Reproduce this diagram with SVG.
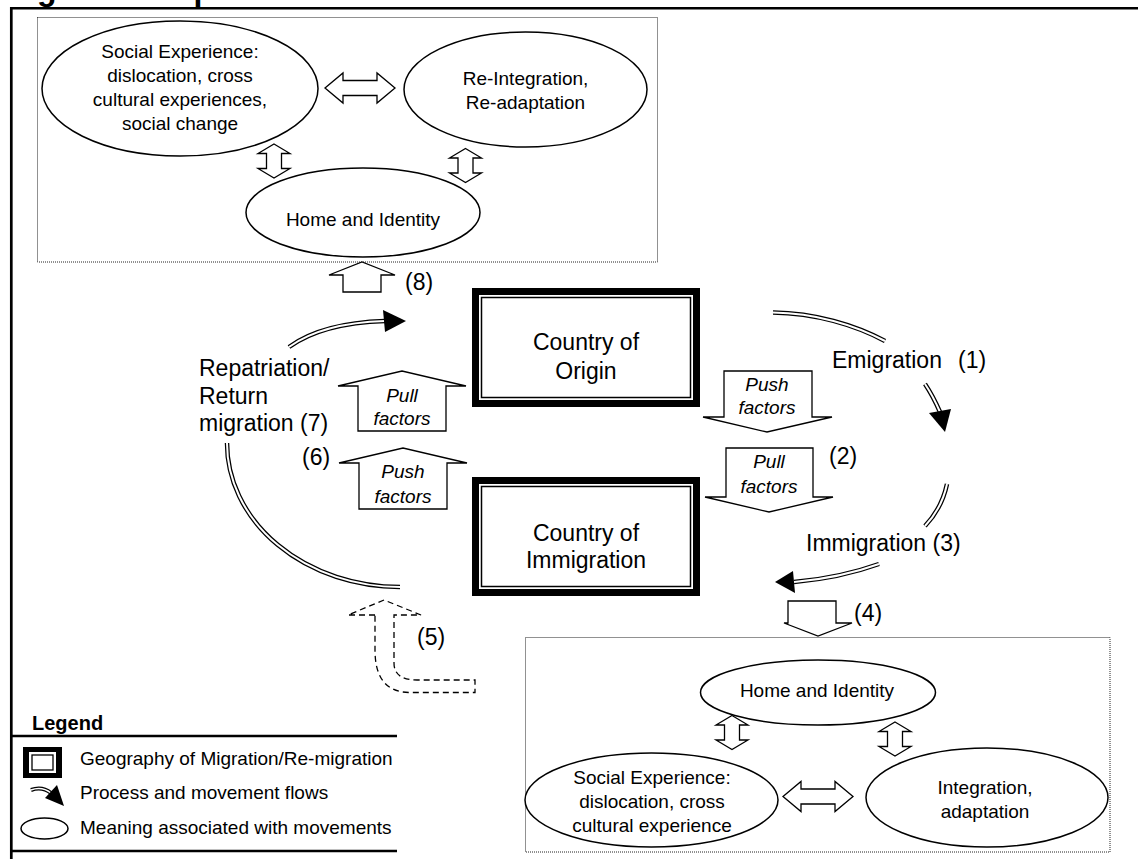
<svg xmlns="http://www.w3.org/2000/svg" xmlns:xlink="http://www.w3.org/1999/xlink" width="1138" height="859" viewBox="0 0 1138 859">
<style>
text{font-family:"Liberation Sans",Arial,Helvetica,sans-serif;fill:#000}
.m{font-size:23px}
.mc{font-size:23px;text-anchor:middle}
.e{font-size:19px;text-anchor:middle}
.i{font-size:19px;font-style:italic;text-anchor:middle}
.lg{font-size:19px}
.ell{fill:#fff;stroke:#000;stroke-width:1.5}
.blk{fill:#fff;stroke:#000;stroke-width:1.3}
.dot{fill:none;stroke:#222;stroke-width:1;stroke-dasharray:1,1}
.dbo{fill:none;stroke:#000;stroke-width:4.5}
.dbi{fill:none;stroke:#fff;stroke-width:2}
.ah{fill:#000;stroke:none}
.dash{fill:none;stroke:#000;stroke-width:1.3;stroke-dasharray:6,4}
.thick{fill:none;stroke:#000;stroke-width:7}
.thin{fill:none;stroke:#000;stroke-width:1.5}
</style>
<defs>
<path id="dv" class="blk" d="M0,-17 L16,-7.5 L7.5,-7.5 L7.5,7.5 L16,7.5 L0,17 L-16,7.5 L-7.5,7.5 L-7.5,-7.5 L-16,-7.5 Z"/>
<path id="dh" class="blk" d="M-35,0 L-17,-15 L-17,-7.5 L17,-7.5 L17,-15 L35,0 L17,15 L17,7.5 L-17,7.5 L-17,15 Z"/>
</defs>
<rect width="1138" height="859" fill="#fff"/>
<text x="8.6" y="-0.5" style="font-size:32px;font-weight:bold">Figure 1: Repatriation Model</text>
<g id="frame">
<line x1="10" y1="8.3" x2="1138" y2="8.3" stroke="#000" stroke-width="2.6"/>
<line x1="11.3" y1="7" x2="11.3" y2="859" stroke="#000" stroke-width="2.7"/>
</g>
<g id="return-box">
<rect class="dot" x="37.5" y="17.5" width="620" height="244.5"/>
<g id="social-exp-top">
<ellipse class="ell" cx="180" cy="88.5" rx="138" ry="67.5"/>
<text class="e" x="180" y="58">Social Experience:</text>
<text class="e" x="180" y="82">dislocation, cross</text>
<text class="e" x="180" y="106">cultural experiences,</text>
<text class="e" x="180" y="130">social change</text>
</g>
<g id="reintegration">
<ellipse class="ell" cx="525.5" cy="89.5" rx="121.5" ry="57.5"/>
<text class="e" x="525.5" y="85">Re-Integration,</text>
<text class="e" x="525.5" y="109">Re-adaptation</text>
</g>
<g id="home-top">
<ellipse class="ell" cx="363" cy="212.5" rx="117" ry="44.5"/>
<text class="e" x="363" y="226">Home and Identity</text>
</g>
<use xlink:href="#dh" x="360" y="88"/>
<use xlink:href="#dv" x="274" y="161"/>
<use xlink:href="#dv" x="465.5" y="165.5"/>
</g>
<g id="country-origin">
<rect class="thick" x="475.5" y="291.5" width="221" height="112"/>
<rect class="thin" x="481.5" y="297.5" width="209" height="100"/>
<text class="mc" x="586" y="350">Country of</text>
<text class="mc" x="586" y="379">Origin</text>
</g>
<g id="country-immigration">
<rect class="thick" x="475.5" y="480.5" width="221" height="112"/>
<rect class="thin" x="481.5" y="486.5" width="209" height="100"/>
<text class="mc" x="586" y="541">Country of</text>
<text class="mc" x="586" y="568">Immigration</text>
</g>
<g id="factor-arrows">
<path class="blk" d="M358,431 L358,386 L338,386 L402,371 L466,386 L446,386 L446,431 Z"/>
<text class="i" x="402" y="402">Pull</text>
<text class="i" x="402" y="425">factors</text>
<path class="blk" d="M359,509 L359,463 L339,463 L403,448 L467,463 L447,463 L447,509 Z"/>
<text class="i" x="403" y="478">Push</text>
<text class="i" x="403" y="503">factors</text>
<path class="blk" d="M724,371 L812,371 L812,417 L832,417 L767,432 L703,417 L724,417 Z"/>
<text class="i" x="767" y="391">Push</text>
<text class="i" x="767" y="414">factors</text>
<path class="blk" d="M726,448 L813,448 L813,497 L833,497 L769,512 L705,497 L726,497 Z"/>
<text class="i" x="769" y="468">Pull</text>
<text class="i" x="769" y="493">factors</text>
</g>
<g id="connectors">
<path class="blk" d="M343,292 L343,275 L329,275 L362,262 L395,275 L381,275 L381,292 Z"/>
<path class="blk" d="M788,601 L836,601 L836,623 L852,623 L818,636 L784,623 L788,623 Z"/>
<path class="dash" d="M375,615 L348,615 L384,600 L421,615 L394,615 L394,663 Q394,680 417,680 L475,680 L475,692.5 L410,692.5 Q375,692.5 375,650 Z"/>
<g id="flows">
<path class="dbo" d="M773,312.5 C815,313 855,325 885,341"/>
<path class="dbi" d="M773,312.5 C815,313 855,325 885,341"/>
<path class="dbo" d="M925,384 Q933,396 940,412"/>
<path class="dbi" d="M925,384 Q933,396 940,412"/>
<polygon class="ah" points="929,413 951,409 945,432"/>
<path class="dbo" d="M947,484 Q942,508 925,526"/>
<path class="dbi" d="M947,484 Q942,508 925,526"/>
<path class="dbo" d="M879,564 Q840,578 794,582"/>
<path class="dbi" d="M879,564 Q840,578 794,582"/>
<polygon class="ah" points="793,571 795,593 775,582"/>
<path class="dbo" d="M227,443 A173,144 0 0 0 400,587"/>
<path class="dbi" d="M227,443 A173,144 0 0 0 400,587"/>
<path class="dbo" d="M289,347 Q322,323 385,321"/>
<path class="dbi" d="M289,347 Q322,323 385,321"/>
<polygon class="ah" points="383,310 385,332 406,321"/>
</g>
</g>
<g id="labels">
<text class="m" x="832" y="368">Emigration<tspan x="958">(1)</tspan></text>
<text class="m" x="829" y="464">(2)</text>
<text class="m" x="806" y="551">Immigration (3)</text>
<text class="m" x="854" y="621">(4)</text>
<text class="m" x="417" y="645">(5)</text>
<text class="m" x="302" y="465">(6)</text>
<text class="m" x="199" y="376">Repatriation/</text>
<text class="m" x="199" y="404">Return</text>
<text class="m" x="199" y="431">migration (7)</text>
<text class="m" x="405" y="290">(8)</text>
</g>
<g id="settle-box">
<rect class="dot" x="525.5" y="637.5" width="584.5" height="214.5"/>
<g id="home-bottom">
<ellipse class="ell" cx="818" cy="692.5" rx="117.5" ry="32.5"/>
<text class="e" x="817" y="697">Home and Identity</text>
</g>
<g id="social-exp-bottom">
<ellipse class="ell" cx="651.5" cy="800" rx="126.5" ry="47"/>
<text class="e" x="652" y="784">Social Experience:</text>
<text class="e" x="652" y="808">dislocation, cross</text>
<text class="e" x="652" y="832">cultural experience</text>
</g>
<g id="integration">
<ellipse class="ell" cx="987" cy="797.5" rx="121" ry="49.5"/>
<text class="e" x="985" y="794">Integration,</text>
<text class="e" x="985" y="818">adaptation</text>
</g>
<use xlink:href="#dv" x="732" y="732.5"/>
<use xlink:href="#dv" x="895" y="739"/>
<use xlink:href="#dh" x="818" y="796.5"/>
</g>
<g id="legend">
<text x="32" y="730" style="font-size:20px;font-weight:bold">Legend</text>
<line x1="11" y1="736" x2="397" y2="736" stroke="#000" stroke-width="2.6"/>
<line x1="11" y1="851" x2="397" y2="851" stroke="#000" stroke-width="2.6"/>
<rect x="23" y="747" width="39" height="31" fill="#000"/>
<rect x="29" y="752" width="27" height="21" fill="#fff"/>
<rect x="32" y="755" width="21" height="15" fill="none" stroke="#000" stroke-width="1.3"/>
<text class="lg" x="80" y="765">Geography of Migration/Re-migration</text>
<path class="dbo" d="M31,790 Q42,786 51,793" style="stroke-width:4"/>
<path class="dbi" d="M31,790 Q42,786 51,793" style="stroke-width:1.5"/>
<polygon class="ah" points="45,798 57,785 64,806"/>
<text class="lg" x="80" y="799">Process and movement flows</text>
<ellipse class="ell" cx="44.5" cy="828.5" rx="23.5" ry="10.5"/>
<text class="lg" x="80" y="834">Meaning associated with movements</text>
</g>
</svg>
